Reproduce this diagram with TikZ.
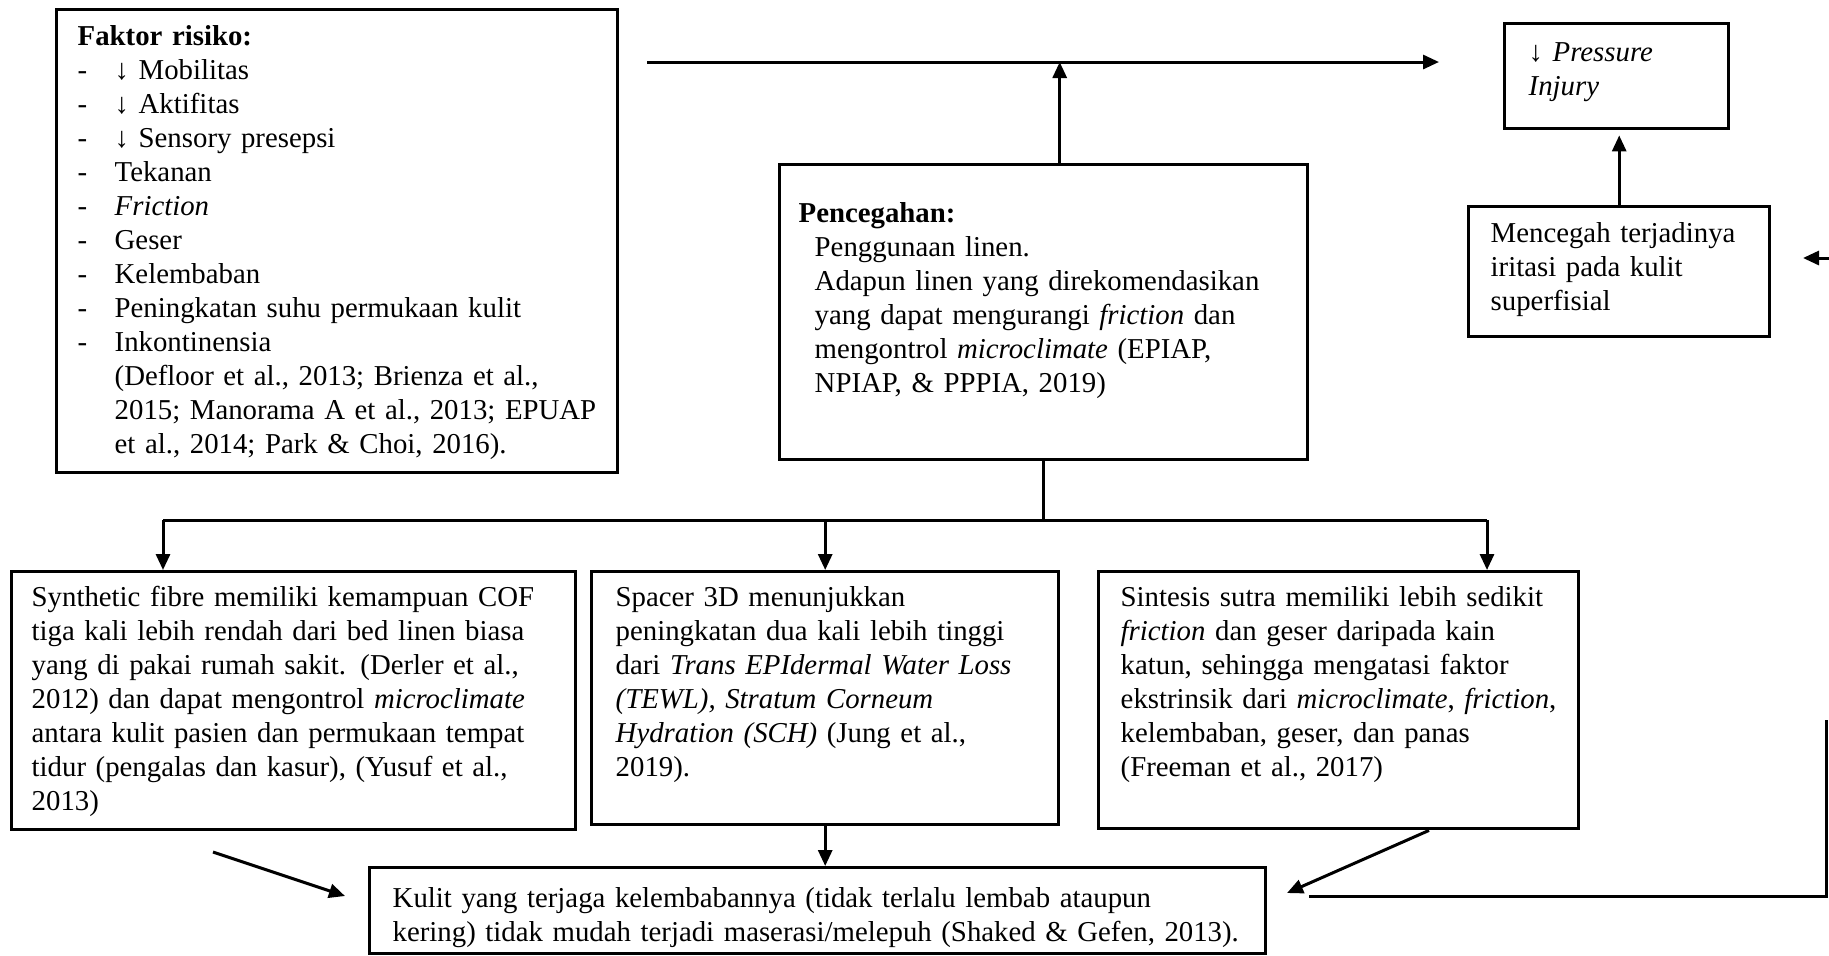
\documentclass[tikz,border=0pt]{standalone}
\usepackage{fontspec}
\setmainfont{Liberation Serif}
\usetikzlibrary{arrows.meta,positioning,calc}

\newcommand{\fdash}{\makebox[18.5pt][l]{-}}

\begin{document}
\begin{tikzpicture}[
        x=0.5pt, y=-0.5pt,
        box/.style={rectangle, draw=black, line width=1.7pt, align=left, anchor=north west,
            text height=11pt, font=\fontsize{14.4}{17}\selectfont},
        line/.style={line width=1.5pt, draw=black},
        arr/.style={-{Triangle[length=8pt,width=7pt]}, line width=1.5pt, draw=black}
    ]
    \useasboundingbox (0,0) rectangle (1829,955);

    \node[box, text width=259.5pt, inner xsep=10.5pt, inner ysep=7pt, text depth=206.5pt] (faktor) at (55,8)
        {\textbf{Faktor risiko:}\\
         \fdash↓ Mobilitas\\
         \fdash↓ Aktifitas\\
         \fdash↓ Sensory presepsi\\
         \fdash Tekanan\\
         \fdash\textit{Friction}\\
         \fdash Geser\\
         \fdash Kelembaban\\
         \fdash Peningkatan suhu permukaan kulit\\
         \fdash Inkontinensia\\
         \hspace*{18.5pt}(Defloor et al., 2013; Brienza et al.,\\
         \hspace*{18.5pt}2015; Manorama A et al., 2013; EPUAP\\
         \hspace*{18.5pt}et al., 2014; Park \& Choi, 2016).};
    \node[box, text width=88pt, inner xsep=12pt, inner ysep=8pt, text depth=25.5pt] (pressure) at (1503,22)
        {↓ \textit{Pressure}\\ \textit{Injury}};
    \node[box, text width=245pt, inner xsep=9.5pt, inner ysep=18pt, text depth=100.5pt] (pencegahan) at (778,163)
        {\textbf{Pencegahan:}\\
         \hspace*{8pt}Penggunaan linen.\\
         \hspace*{8pt}Adapun linen yang direkomendasikan\\
         \hspace*{8pt}yang dapat mengurangi \textit{friction} dan\\
         \hspace*{8pt}mengontrol \textit{microclimate} (EPIAP,\\
         \hspace*{8pt}NPIAP, \& PPPIA, 2019)};
    \node[box, text width=128.5pt, inner xsep=11pt, inner ysep=7pt, text depth=40pt] (mencegah) at (1467,205)
        {Mencegah terjadinya\\ iritasi pada kulit\\ superfisial};

    % Three linen options
    \node[box, text width=262pt, inner xsep=10pt, inner ysep=6.5pt, text depth=105pt] (boxA) at (10,570)
        {Synthetic fibre memiliki kemampuan COF\\
         tiga kali lebih rendah dari bed linen biasa\\
         yang di pakai rumah sakit. (Derler et al.,\\
         2012) dan dapat mengontrol \textit{microclimate}\\
         antara kulit pasien dan permukaan tempat\\
         tidur (pengalas dan kasur), (Yusuf et al.,\\
         2013)};
    \node[box, text width=209.5pt, inner xsep=12pt, inner ysep=6.5pt, text depth=102.5pt] (boxB) at (590,570)
        {Spacer 3D menunjukkan\\
         peningkatan dua kali lebih tinggi\\
         dari \textit{Trans EPIdermal Water Loss}\\
         \textit{(TEWL), Stratum Corneum}\\
         \textit{Hydration (SCH)} (Jung et al.,\\
         2019).};
    \node[box, text width=218pt, inner xsep=11pt, inner ysep=6.5pt, text depth=104.5pt] (boxC) at (1097,570)
        {Sintesis sutra memiliki lebih sedikit\\
         \textit{friction} dan geser daripada kain\\
         katun, sehingga mengatasi faktor\\
         ekstrinsik dari \textit{microclimate}, \textit{friction},\\
         kelembaban, geser, dan panas\\
         (Freeman et al., 2017)};
    \node[box, text width=425pt, inner xsep=11.5pt, inner ysep=9pt, text depth=14pt] (kulit) at (368,866)
        {Kulit yang terjaga kelembabannya (tidak terlalu lembab ataupun\\
         kering) tidak mudah terjadi maserasi/melepuh (Shaked \& Gefen, 2013).};

    % Free line ends
    \coordinate (topL) at (647,62);
    \coordinate (topR) at (1439,62);
    \coordinate (rightIn) at (1829,258);
    \coordinate (rightTip) at (1803,258);
    \coordinate (split) at ([yshift=-29.5pt]pencegahan.south);
    \coordinate (aTop) at ([xshift=76.5pt]boxA.north west);
    \coordinate (cTop) at ([xshift=195pt]boxC.north west);
    \coordinate (diagL) at (213,852);
    \coordinate (diagLTip) at (345,896);
    \coordinate (diagRTip) at (1287,893);
    \coordinate (backL) at (1309,896);
    \coordinate (backR) at (1826,896);
    \coordinate (backUp) at (1826,720);

    \draw[arr] (topL) -- (topR);
    \draw[arr] ([xshift=8pt]pencegahan.north) -- ([xshift=8pt]pencegahan.north |- topL);
    \draw[arr, shorten >=2.5pt] (mencegah.north) -- (mencegah.north |- pressure.south);
    \draw[arr] (rightIn) -- (rightTip);

    \draw[line] (pencegahan.south) -- (split);
    \draw[line] (split -| aTop) -- (split -| cTop);
    \draw[arr] (split -| aTop) -- (aTop);
    \draw[arr] (split -| boxB.north) -- (boxB.north);
    \draw[arr] (split -| cTop) -- (cTop);

    \draw[arr] (boxB.south) -- (boxB.south |- kulit.north);
    \draw[arr] (diagL) -- (diagLTip);
    \draw[arr] ([xshift=166pt]boxC.south west) -- (diagRTip);
    \draw[line] (backL) -- (backR) -- (backUp);
\end{tikzpicture}
\end{document}
